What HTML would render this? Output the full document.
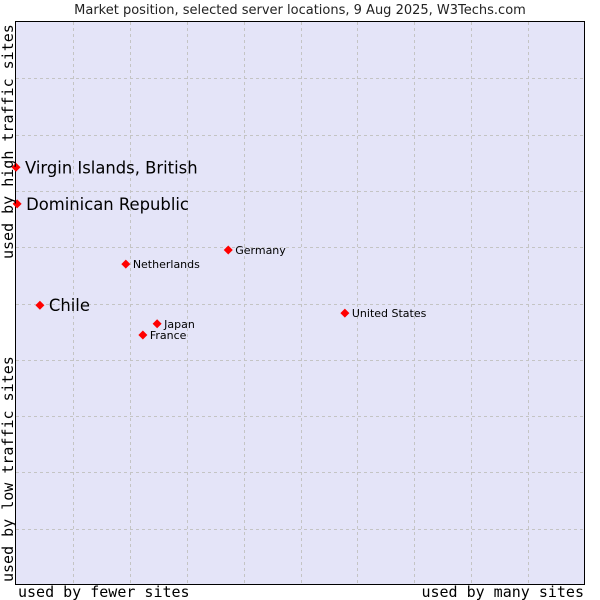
<!DOCTYPE html>
<html><head><meta charset="utf-8"><style>body{margin:0;background:#fff}svg{display:block}</style></head><body>
<svg id="c" width="600" height="600" xmlns="http://www.w3.org/2000/svg">
<text x="300" y="14" text-anchor="middle" font-family="DejaVu Sans, sans-serif" font-size="13" fill="#222">Market position, selected server locations, 9 Aug 2025, W3Techs.com</text>
<rect x="15.5" y="21.5" width="569" height="563" fill="#e4e4f8" stroke="#000" stroke-width="1"/>
<g id="grid"></g>
<g id="pts"></g>
<text x="18" y="597" font-family="DejaVu Sans Mono, monospace" font-size="15" fill="#000">used by fewer sites</text>
<text x="584" y="597" text-anchor="end" font-family="DejaVu Sans Mono, monospace" font-size="15" fill="#000">used by many sites</text>
<text transform="translate(13,259) rotate(-90)" font-family="DejaVu Sans Mono, monospace" font-size="15" fill="#000">used by high traffic sites</text>
<text transform="translate(13,582) rotate(-90)" font-family="DejaVu Sans Mono, monospace" font-size="15" fill="#000">used by low traffic sites</text>
</svg>
<script>
const countries=["Virgin Islands, British","Dominican Republic","Chile","Netherlands","Germany","Japan","France","United States"];
const xValues=[0,0.2,4.2,19.3,37.3,24.8,22.3,57.8];
const yValues=[74.2,67.7,49.7,57.0,59.5,46.4,44.4,48.3];
const bigLabel=[true,true,true,false,false,false,false,false];
const ns="http://www.w3.org/2000/svg";
const L=16,R=585,T=22,B=585;
const sx=v=>L+v/100*(R-L), sy=v=>B-v/100*(B-T);
const grid=document.getElementById('grid');
for(let i=1;i<10;i++){
 const v=document.createElementNS(ns,'line');
 
 
 const x=Math.round(sx(i*10))+0.5;
 v.setAttribute('x1',x);v.setAttribute('x2',x);v.setAttribute('y1',T);v.setAttribute('y2',B);
 v.setAttribute('stroke','#c4c4c4');v.setAttribute('stroke-dasharray','3,3');grid.appendChild(v);
 const h=document.createElementNS(ns,'line');
 
 
 const y=Math.round(sy(i*10))+0.5;
 h.setAttribute('x1',L);h.setAttribute('x2',R);h.setAttribute('y1',y);h.setAttribute('y2',y);
 h.setAttribute('stroke','#c4c4c4');h.setAttribute('stroke-dasharray','3,3');grid.appendChild(h);
}
const pts=document.getElementById('pts');
countries.forEach((c,i)=>{
 const x=sx(xValues[i]),y=sy(yValues[i]);
 const d=document.createElementNS(ns,'path');
 
 
 d.setAttribute('d',`M${x} ${y-4.5}L${x+4.5} ${y}L${x} ${y+4.5}L${x-4.5} ${y}Z`);
 d.setAttribute('fill','#f00');pts.appendChild(d);
 const t=document.createElementNS(ns,'text');
 
 
 const big=bigLabel[i];
 t.setAttribute('x',x+(big?9:7));t.setAttribute('y',y+(big?6:4));
 t.setAttribute('font-family','DejaVu Sans, sans-serif');
 t.setAttribute('font-size',big?16.4:11);t.setAttribute('fill','#000');
 t.textContent=c;pts.appendChild(t);
});
</script>
</body></html>
